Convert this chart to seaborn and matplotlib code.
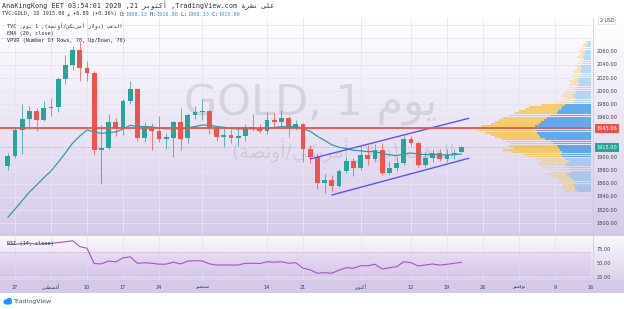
import numpy as np
import pandas as pd
import matplotlib
matplotlib.use("Agg")
import matplotlib.pyplot as plt
import seaborn as sns
from matplotlib.colors import LinearSegmentedColormap
from matplotlib.patches import Ellipse

sns.set_theme(style="white")
MONO = ['DejaVu Sans Mono', 'DejaVu Sans']
SANS = ['DejaVu Sans']
plt.rcParams['font.family'] = SANS

# ---------------- data (TVC:GOLD daily) ----------------
first_day = "2020-07-24"
last_day = "2020-10-21"
opens = [1887, 1902, 1941, 1958, 1970, 1957, 1975, 1976, 2019, 2039, 2063, 2035, 2028, 1911, 1914, 1953,
         1944, 1985, 2003, 1929, 1946, 1940, 1928, 1929, 1954, 1929, 1964, 1968, 1970, 1944, 1931, 1934,
         1929, 1932, 1946, 1944, 1940, 1957, 1954, 1959, 1945, 1951, 1912, 1900, 1861, 1866, 1857, 1880,
         1895, 1884, 1903, 1897, 1911, 1877, 1884, 1891, 1928, 1921, 1888, 1899, 1907, 1897, 1903, 1908]
highs = [1906, 1946, 1980, 1977, 1975, 1985, 1990, 2021, 2055, 2069, 2075, 2045, 2031, 1949, 1966, 1960,
         1989, 2015, 2005, 1953, 1952, 1962, 1937, 1955, 1975, 1967, 1978, 1988, 1973, 1948, 1944, 1943,
         1944, 1951, 1966, 1950, 1968, 1967, 1972, 1963, 1956, 1952, 1918, 1906, 1875, 1873, 1883, 1900,
         1899, 1917, 1918, 1920, 1921, 1894, 1900, 1933, 1933, 1925, 1908, 1913, 1912, 1912, 1913, 1917]
lows = [1881, 1899, 1905, 1945, 1940, 1955, 1962, 1969, 2011, 2032, 2015, 2016, 1904, 1859, 1912, 1933,
        1934, 1980, 1925, 1923, 1911, 1923, 1912, 1901, 1911, 1921, 1958, 1956, 1936, 1924, 1915, 1922,
        1917, 1925, 1940, 1937, 1936, 1945, 1947, 1931, 1942, 1893, 1891, 1852, 1846, 1849, 1855, 1876,
        1872, 1881, 1889, 1895, 1873, 1874, 1880, 1889, 1917, 1885, 1885, 1893, 1894, 1893, 1898, 1908]
closes = [1902, 1941, 1958, 1970, 1957, 1975, 1976, 2019, 2039, 2063, 2035, 2028, 1911, 1914, 1953, 1944,
          1985, 2003, 1929, 1946, 1940, 1928, 1931, 1953, 1928, 1964, 1968, 1970, 1944, 1930, 1934, 1929,
          1932, 1946, 1944, 1940, 1957, 1954, 1959, 1945, 1951, 1912, 1900, 1861, 1866, 1856, 1880, 1895,
          1884, 1903, 1897, 1911, 1877, 1884, 1891, 1928, 1921, 1888, 1899, 1907, 1897, 1903, 1907, 1915]
ema20 = [1809, 1821.6, 1834.6, 1847.5, 1857.9, 1869.1, 1879.2, 1892.5, 1906.5, 1921.4, 1932.2, 1941.3,
         1938.4, 1936.1, 1937.7, 1938.3, 1942.8, 1948.5, 1946.6, 1946.6, 1946.0, 1944.3, 1943.0, 1944.0,
         1942.4, 1944.5, 1946.7, 1948.9, 1948.5, 1946.7, 1945.5, 1943.9, 1942.8, 1943.1, 1943.2, 1942.9,
         1944.2, 1945.1, 1946.4, 1946.3, 1946.8, 1943.5, 1939.4, 1931.9, 1925.6, 1919.0, 1915.3, 1913.4,
         1910.6, 1909.9, 1908.6, 1908.9, 1905.8, 1903.8, 1902.5, 1905.0, 1906.5, 1904.7, 1904.2, 1904.5,
         1903.7, 1903.7, 1904.0, 1905.0]
rsi14 = [84, 84, 85, 85.5, 84.5, 85, 85.5, 87, 88.5, 90.3, 80, 77, 50, 49.5, 54.5, 53, 60, 62, 50.5,
         51.5, 50.5, 49, 49, 52.5, 49.3, 54.5, 55, 54.8, 49.5, 47.5, 47.5, 47.5, 47.5, 50.5, 50.5, 50,
         53.3, 52.5, 53.3, 50.5, 51.6, 42, 39, 33, 34, 33, 38.5, 42.8, 41.7, 46.3, 46.3, 48.8, 40.5, 42.8,
         44.5, 53.3, 51.6, 45.8, 47.5, 49.3, 47.5, 48.8, 50.5, 52.3]

# volume profile (VPVR, 70 rows), bottom row first
vp_low, vp_high = 1847.2, 2076.1
vp_up = [14, 16, 16, 18, 15, 18, 20, 22, 24, 20, 22, 24, 26, 24, 22, 26, 29, 30, 29, 31,
         32, 34, 38, 40, 46, 51, 52, 54, 55, 58, 56, 52, 50, 47, 44, 40, 34, 33, 30, 29,
         26, 18, 17, 16, 18, 17, 15, 16, 14, 13, 12, 13, 12, 11, 10, 11, 10, 9, 10, 8,
         9, 7, 8, 7, 6, 6, 5, 5, 4, 3]
vp_down = [12, 12, 14, 10, 17, 12, 16, 18, 20, 18, 20, 24, 26, 30, 28, 30, 35, 38, 51, 57,
           46, 48, 42, 44, 44, 45, 48, 52, 58, 57, 54, 48, 46, 45, 44, 42, 42, 39, 36, 33,
           24, 16, 11, 10, 12, 11, 11, 8, 8, 9, 8, 9, 6, 9, 6, 7, 6, 5, 6, 6,
           4, 5, 6, 5, 4, 6, 5, 4, 4, 3]
value_area_rows = (16, 40)
poc_price = 1943.66
last_price = 1915.00

# trend channel anchors (date, price)
channel_upper = [("2020-09-22", 1897.5), ("2020-10-22", 1959.0)]
channel_lower = [("2020-09-25", 1843.0), ("2020-10-22", 1898.5)]

# time axis
tick_dates = ["2020-07-27", "2020-08-03", "2020-08-10", "2020-08-17", "2020-08-24", "2020-09-01",
              "2020-09-14", "2020-09-21", "2020-10-01", "2020-10-12", "2020-10-19", "2020-10-26",
              "2020-11-02", "2020-11-09", "2020-11-16"]
AUG = "\uFEB2\uFEC4\uFEB4\uFECF\uFE83"
SEP = "\uFEAE\uFE92\uFEE4\uFE98\uFE92\uFEB3"
OCT = "\uFEAE\uFE91\uFEEE\uFE98\uFEDB\uFE83"
NOV = "\uFEAE\uFE92\uFEE4\uFED3\uFEEE\uFEE7"
tick_labels = ["27", AUG, "10", "17", "24", SEP, "14", "21", OCT, "12", "19", "26", NOV, "9", "16"]
price_ticks = [1800, 1820, 1840, 1860, 1880, 1900, 1920, 1940, 1960, 1980, 2000, 2020, 2040, 2060, 2080, 2100]
price_labels_hidden = [1920, 1940, 2080, 2100]
rsi_ticks = [25, 50, 75]

# Arabic words (presentation forms, visual order)
YOM = "\uFEE1\uFEEE\uFEF3"
GOLD_AR = "\uFE90\uFEEB\uFEAC\uFEDF\uFE8D"
DOLLAR = "\uFEAD\uFEFB\uFEED\uFEA9"
AMERICAN = "\uFEF2\uFEDC\uFEF3\uFEAE\uFEE3\uFE83"
OUNCE = "\uFE94\uFEBC\uFEE7\uFEED\uFE83"
PUBLISHED = "\uFE94\uFEAE\uFEB8\uFEE7"
ON = "\uFEF0\uFEE0\uFECB"

# ---------------- layout ----------------
W, H = 624, 309
fig = plt.figure(figsize=(W / 100, H / 100), dpi=100)
fig.patch.set_facecolor("white")


def rect(x0, y0, x1, y1):
    return [x0 / W, 1 - y1 / H, (x1 - x0) / W, (y1 - y0) / H]


def gradient(ax, top, bottom):
    cmap = LinearSegmentedColormap.from_list("g", [bottom, top])
    ax.imshow(np.linspace(0, 1, 256).reshape(-1, 1), cmap=cmap, origin="lower",
              extent=[0, 1, 0, 1], transform=ax.transAxes, aspect="auto", zorder=0)


def clean(ax):
    ax.tick_params(length=0, labelleft=False, labelbottom=False, labelright=False, labeltop=False)
    for s in ax.spines.values():
        s.set_visible(False)


GREEN, RED = "#26a69a", "#ef5350"
GRID = "#e9e4f1"

cal = pd.bdate_range(first_day, "2020-11-30")
pos = {d.strftime("%Y-%m-%d"): i for i, d in enumerate(cal)}
xs = np.arange(len(pd.bdate_range(first_day, last_day)))
O, Hh, L, C = map(np.array, (opens, highs, lows, closes))

px_per_bar = 7.2
x_first_px = 7.8
xlim_main = (-x_first_px / px_per_bar, (591 - x_first_px) / px_per_bar)
ylim_main = (1785.5, 2110.8)

# base purple band behind panes
bg = fig.add_axes(rect(0, 18, 624, 293))
bg.set_facecolor("#d3c8e6")
clean(bg)

# ---------------- main pane ----------------
ax = fig.add_axes(rect(0, 18, 591, 233))
gradient(ax, "#ffffff", "#d6cbe9")
ax.set_xlim(*xlim_main)
ax.set_ylim(*ylim_main)
clean(ax)
for v in price_ticks:
    ax.axhline(v, color=GRID, lw=0.6, zorder=0.5)
for d in tick_dates:
    ax.axvline(pos[d], color=GRID, lw=0.6, zorder=0.5)

# watermark
ax.text(0.525, 0.595, "GOLD, 1 " + YOM, transform=ax.transAxes, ha="center", va="center",
        fontsize=31, color="#a3a3ae", alpha=0.32, zorder=1, family=SANS)
ax.text(0.58, 0.385, "(" + OUNCE + "/" + AMERICAN + " " + DOLLAR + ") " + GOLD_AR,
        transform=ax.transAxes, ha="center", va="center", fontsize=13.5, color="#a3a3ae",
        alpha=0.32, zorder=1, family=SANS)

cols = np.where(C >= O, GREEN, RED)
ax.vlines(xs, L, Hh, colors=cols, lw=0.7, zorder=3, alpha=0.75)
ax.bar(xs, np.maximum(np.abs(C - O), 0.9), bottom=np.minimum(O, C), width=0.68,
       color=cols, linewidth=0, zorder=4)
sns.lineplot(x=xs, y=ema20, ax=ax, color="#2d9ca8", lw=0.9, zorder=5, legend=False)

for anchors in (channel_upper, channel_lower):
    ax.plot([pos[a[0]] for a in anchors], [a[1] for a in anchors], color="#5a55f0", lw=1.0, zorder=6)
ax.set_xlim(*xlim_main)
ax.set_ylim(*ylim_main)

# volume profile overlay
axv = ax.twiny()
axv.set_xlim(591, 0)
axv.set_ylim(*ylim_main)
clean(axv)
axv.patch.set_visible(False)
nrows = len(vp_up)
row_h = (vp_high - vp_low) / nrows
centers = vp_low + row_h * (np.arange(nrows) + 0.5)
in_va = (np.arange(nrows) >= value_area_rows[0]) & (np.arange(nrows) <= value_area_rows[1])
up_cols = [(0.13, 0.56, 0.93, 0.68) if v else (0.08, 0.57, 0.90, 0.26) for v in in_va]
dn_cols = [(0.98, 0.75, 0.18, 0.68) if v else (0.98, 0.76, 0.14, 0.28) for v in in_va]
axv.barh(centers, vp_up, height=row_h * 0.8, left=0, color=up_cols, linewidth=0, zorder=2)
axv.barh(centers, vp_down, height=row_h * 0.8, left=vp_up, color=dn_cols, linewidth=0, zorder=2)
axv.axhline(poc_price, color="#f0504c", lw=1.3, zorder=7)
axv.axhline(last_price, color=GREEN, lw=0.6, ls=(0, (1, 2)), alpha=0.6, zorder=7)

# legend texts in main pane
leg_a = "TVC ," + YOM + " 1 ,(" + OUNCE + "/" + AMERICAN + " " + DOLLAR + ") " + GOLD_AR
for yy, t in ((26, leg_a), (33.3, "EMA (20, close)"), (40.7, "VPVR (Number Of Rows, 70, Up/Down, 70)")):
    fig.text(7 / W, 1 - yy / H, t, fontsize=3.7, family=MONO, color="#2a2e39", va="center", ha="left")

# ---------------- price scale ----------------
aps = fig.add_axes(rect(591, 18, 624, 233))
gradient(aps, "#ffffff", "#d6cbe9")
aps.set_xlim(0, 33)
aps.set_ylim(*ylim_main)
clean(aps)
aps.axvline(1.5, color="#cfc9da", lw=0.6)
for v in price_ticks:
    if v not in price_labels_hidden:
        aps.text(5.5, v, f"{v:.2f}", fontsize=3.6, color="#3a3e49", va="center", ha="left")
for val, colr in ((poc_price, "#f0504c"), (last_price, GREEN)):
    aps.text(5.5, val, f"{val:.2f}", fontsize=3.6, color="white", va="center", ha="left",
             bbox=dict(boxstyle="square,pad=0.35", fc=colr, ec="none"))
aps.text(16, 2106.5, "2 USD", fontsize=3.4, color="#3a3e49", va="center", ha="center",
         bbox=dict(boxstyle="round,pad=0.3", fc="white", ec="#d0ccd8", lw=0.4))

# ---------------- RSI pane ----------------
ylim_rsi = (21.1, 98.6)
ar = fig.add_axes(rect(0, 236, 591, 280))
gradient(ar, "#faf8fc", "#dcd1ec")
ar.set_xlim(*xlim_main)
ar.set_ylim(*ylim_rsi)
clean(ar)
for d in tick_dates:
    ar.axvline(pos[d], color=GRID, lw=0.6, zorder=0.5)
ar.axhspan(30, 70, color="#b07ad6", alpha=0.13, lw=0, zorder=0.6)
for lvl in (70, 30):
    ar.axhline(lvl, color="#9b8fb0", lw=0.5, ls=(0, (1, 2)), zorder=1)
sns.lineplot(x=xs, y=rsi14, ax=ar, color="#a553c9", lw=0.8, zorder=3, legend=False)
ar.set_xlim(*xlim_main)
ar.set_ylim(*ylim_rsi)
fig.text(7 / W, 1 - 243 / H, "RSI (14, close)", fontsize=3.7, family=MONO, color="#2a2e39", va="center")

ars = fig.add_axes(rect(591, 236, 624, 280))
gradient(ars, "#faf8fc", "#dcd1ec")
ars.set_xlim(0, 33)
ars.set_ylim(*ylim_rsi)
clean(ars)
ars.axvline(1.5, color="#cfc9da", lw=0.6)
for v in rsi_ticks:
    ars.text(5.5, v, f"{v:.2f}", fontsize=3.6, color="#3a3e49", va="center", ha="left", clip_on=True)

# ---------------- time axis ----------------
at = fig.add_axes(rect(0, 280, 624, 293))
at.set_facecolor("#d5c9e8")
at.set_xlim(xlim_main[0], (624 - x_first_px) / px_per_bar)
at.set_ylim(0, 1)
clean(at)
for d, lab in zip(tick_dates, tick_labels):
    at.text(pos[d], 0.45, lab, fontsize=3.5, color="#3a3e49", ha="center", va="center", family=SANS)

# ---------------- header ----------------
hdr1 = ("AnaKingKong EET 03:54:01 2020 ,21 " + OCT + " ,TradingView.com " + PUBLISHED + " " + ON)
fig.text(2 / W, 1 - 5 / H, hdr1, fontsize=4.9, family=MONO, color="#2a2e39", va="center")

cw = 0.602 * 3.7 * 100 / 72
segs = [("TVC:GOLD, 1D 1915.00 ", "#2a2e39"), ("\u25B2", GREEN), (" +6.89 (+0.36%) ", "#2a2e39"),
        ("O:", "#2a2e39"), ("1908.13", "#3a8fd0"), (" H:", "#2a2e39"), ("1916.86", "#3a8fd0"),
        (" L:", "#2a2e39"), ("1908.13", "#3a8fd0"), (" C:", "#2a2e39"), ("1915.00", "#3a8fd0")]
xc = 2.0
for t, colr in segs:
    fig.text(xc / W, 1 - 14 / H, t, fontsize=3.7, family=MONO, color=colr, va="center", ha="left")
    xc += cw * len(t)

# TradingView logo
lg = fig.add_axes(rect(3, 296, 13, 306))
lg.set_xlim(0, 10)
lg.set_ylim(0, 10)
lg.axis("off")
for cx, cy, w, h in ((3.2, 4.2, 5.5, 5.0), (6.2, 5.2, 5.5, 6.2), (5, 3.4, 8.5, 4.0)):
    lg.add_patch(Ellipse((cx, cy), w, h, color="#2196f3", lw=0))
fig.text(14 / W, 1 - 301 / H, "TradingView", fontsize=4.5, color="#4a4e59", va="center", family=SANS)

fig.savefig("out.png", dpi=100)
